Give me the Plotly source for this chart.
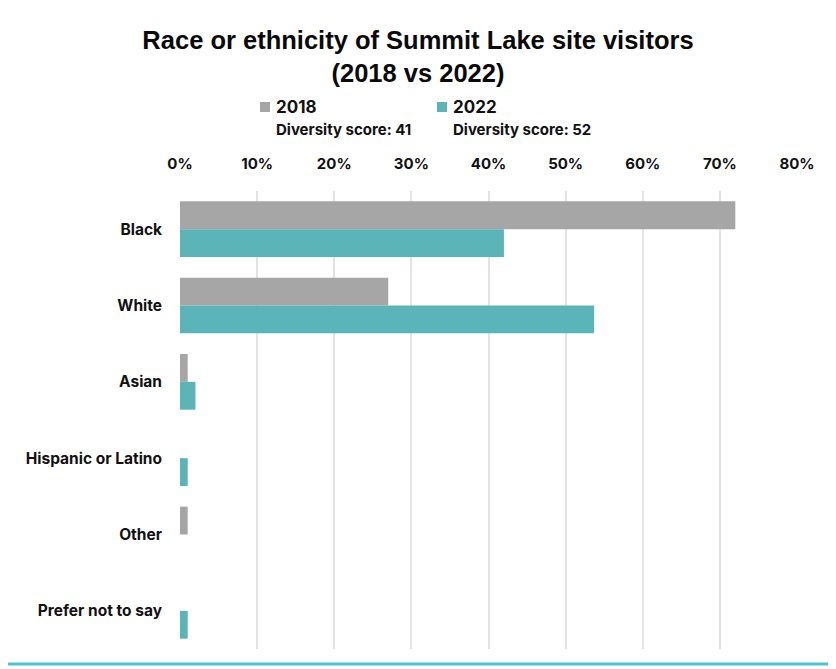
import plotly.graph_objects as go

categories = ["Black", "White", "Asian", "Hispanic or Latino", "Other", "Prefer not to say"]
values_2018 = [72, 27, 1, 0, 1, 0]
values_2022 = [42, 53.7, 2, 1, 0, 1]
series_names = ["2018", "2022"]
diversity_scores = [41, 52]
colors = ["#a6a6a6", "#5bb4b8"]

OFF = 8  # browser default body margin
W, H = 836 - OFF, 669 - OFF
L, R, T, B = 180 - OFF, 39, 191 - OFF, 20
pw, ph = W - L - R, H - T - B

def px_x(x):  # x in reference-image pixels -> paper
    return (x - OFF - L) / pw

def px_y(y):
    return (H - B - (y - OFF)) / ph

fig = go.Figure()
for name, vals, col in zip(series_names, [values_2018, values_2022], colors):
    fig.add_trace(go.Bar(y=categories, x=vals, name=name, orientation="h",
                         marker=dict(color=col, line=dict(width=0))))

font_main = "Inter, Roboto, Arial, sans-serif"

fig.update_layout(
    width=W, height=H,
    margin=dict(l=L, r=R, t=T, b=B),
    paper_bgcolor="white", plot_bgcolor="white",
    barmode="group", bargap=0.27, bargroupgap=0,
    showlegend=False,
    font=dict(family=font_main, color="#111111"),
    title=dict(text="<b>Race or ethnicity of Summit Lake site visitors<br>(2018 vs 2022)</b>",
               x=(418 - OFF) / W, xref="container", xanchor="center",
               y=1 - (49 - OFF) / H, yref="container", yanchor="middle",
               font=dict(family="Liberation Sans, Arial, sans-serif",
                         size=25.5, color="#0a0a0a")),
    xaxis=dict(side="top", range=[0, 80], dtick=10, ticksuffix="%",
               showgrid=True, gridcolor="#e3e3e3", gridwidth=1.5,
               zeroline=False, showline=False, ticks="",
               tickfont=dict(size=15, family=font_main, weight="bold", color="#111111"),
               ticklabelstandoff=18, fixedrange=True),
    yaxis=dict(autorange="reversed", showgrid=False, zeroline=False, showline=False, ticks="",
               tickfont=dict(size=15.5, family=font_main, weight="bold", color="#111111"),
               ticklabelstandoff=17, fixedrange=True),
)

# legend (custom)
leg_x = [265, 442]
for name, score, col, lx in zip(series_names, diversity_scores, colors, leg_x):
    fig.add_shape(type="rect", xref="paper", yref="paper",
                  x0=px_x(lx - 5), x1=px_x(lx + 5), y0=px_y(112), y1=px_y(102),
                  fillcolor=col, line=dict(width=0))
    fig.add_annotation(xref="paper", yref="paper", x=px_x(lx + 9), y=px_y(107),
                       text=f"<b>{name}</b>", showarrow=False, xanchor="left", yanchor="middle",
                       font=dict(size=17, family=font_main, color="#111111"))
    fig.add_annotation(xref="paper", yref="paper", x=px_x(lx + 9), y=px_y(129),
                       text=f"<b>Diversity score: {score}</b>", showarrow=False,
                       xanchor="left", yanchor="middle",
                       font=dict(size=15, family=font_main, color="#111111"))

# frame decorations
fig.add_shape(type="line", xref="paper", yref="paper", x0=px_x(0), x1=px_x(836),
              y0=px_y(664), y1=px_y(664), line=dict(color="#4cc3cf", width=3))
fig.add_shape(type="line", xref="paper", yref="paper", x0=px_x(835.5), x1=px_x(835.5),
              y0=px_y(8), y1=px_y(662), line=dict(color="#dddddd", width=1))

fig.write_html("out.html")
